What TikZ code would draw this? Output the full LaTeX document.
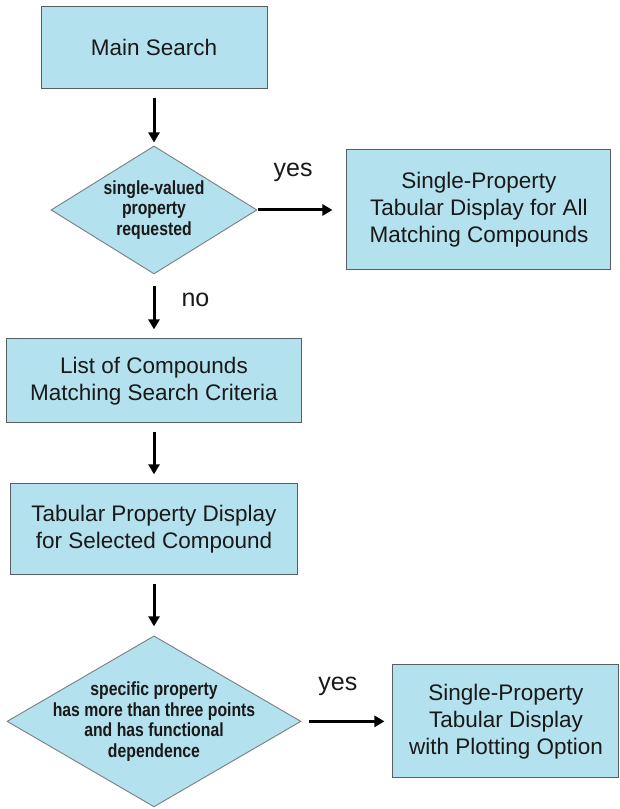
\documentclass[tikz,border=0pt]{standalone}
\usepackage{fontspec}
\setmainfont{Liberation Sans}
\newfontfamily\decfont[FakeStretch=0.83]{Liberation Sans Bold}
\definecolor{boxblue}{RGB}{180,225,238}
\definecolor{edgegray}{RGB}{85,95,100}
\definecolor{inkgray}{RGB}{25,25,25}
\usetikzlibrary{positioning, shapes.geometric, arrows.meta}

\begin{document}
\begin{tikzpicture}[x=1pt, y=-1pt,
        proc/.style={rectangle, draw=edgegray, line width=1pt, fill=boxblue, text=inkgray, align=center, inner sep=0pt, font=\fontsize{22.5}{27}\selectfont},
        decision/.style={diamond, draw=edgegray!80, line width=0.9pt, fill=boxblue, text=inkgray, align=center, inner sep=-30pt, font=\decfont\fontsize{19}{20.5}\selectfont},
        lbl/.style={inner sep=0pt, text=inkgray, font=\fontsize{25}{30}\selectfont},
        arrow/.style={-{Triangle[length=10pt, width=11pt]}, line width=3pt, shorten <=9pt, shorten >=9pt}
    ]
        \useasboundingbox (0,0) rectangle (619,809);

        % Search
        \node[proc, minimum width=226pt, minimum height=82pt] (MAIN) at (154,47) {Main Search};

        % First decision
        \node[decision, below=57pt of MAIN, minimum width=206pt, minimum height=128pt] (DEC1) {single-valued\\property\\requested};
        \node[proc, right=89pt of DEC1, minimum width=264pt, minimum height=120pt] (ALL) {Single-Property\\Tabular Display for All\\Matching Compounds};

        % Compound list and table
        \node[proc, below=64pt of DEC1, minimum width=295pt, minimum height=84pt] (LIST) {List of Compounds\\Matching Search Criteria};
        \node[proc, below=60pt of LIST, minimum width=287pt, minimum height=91pt] (TAB) {Tabular Property Display\\for Selected Compound};

        % Second decision
        \node[decision, below=60pt of TAB, minimum width=294pt, minimum height=171pt] (DEC2) {specific property\\has more than three points\\and has functional\\dependence};
        \node[proc, right=91pt of DEC2, minimum width=226pt, minimum height=113pt] (PLOT) {Single-Property\\Tabular Display\\with Plotting Option};

        % Arrows
        \draw[arrow, shorten >=3pt] (MAIN) -- (DEC1);
        \draw[arrow, shorten <=1pt, shorten >=14pt] (DEC1) -- node[lbl, pos=0.4, above=27pt] {yes} (ALL);
        \draw[arrow, shorten <=12pt] (DEC1) -- node[lbl, pos=0.4, right=26pt] {no} (LIST);
        \draw[arrow] (LIST) -- (TAB);
        \draw[arrow] (TAB) -- (DEC2);
        \draw[arrow, shorten <=8pt, shorten >=8pt] (DEC2) -- node[lbl, pos=0.4, above=24pt] {yes} (PLOT);
    \end{tikzpicture}
\end{document}
